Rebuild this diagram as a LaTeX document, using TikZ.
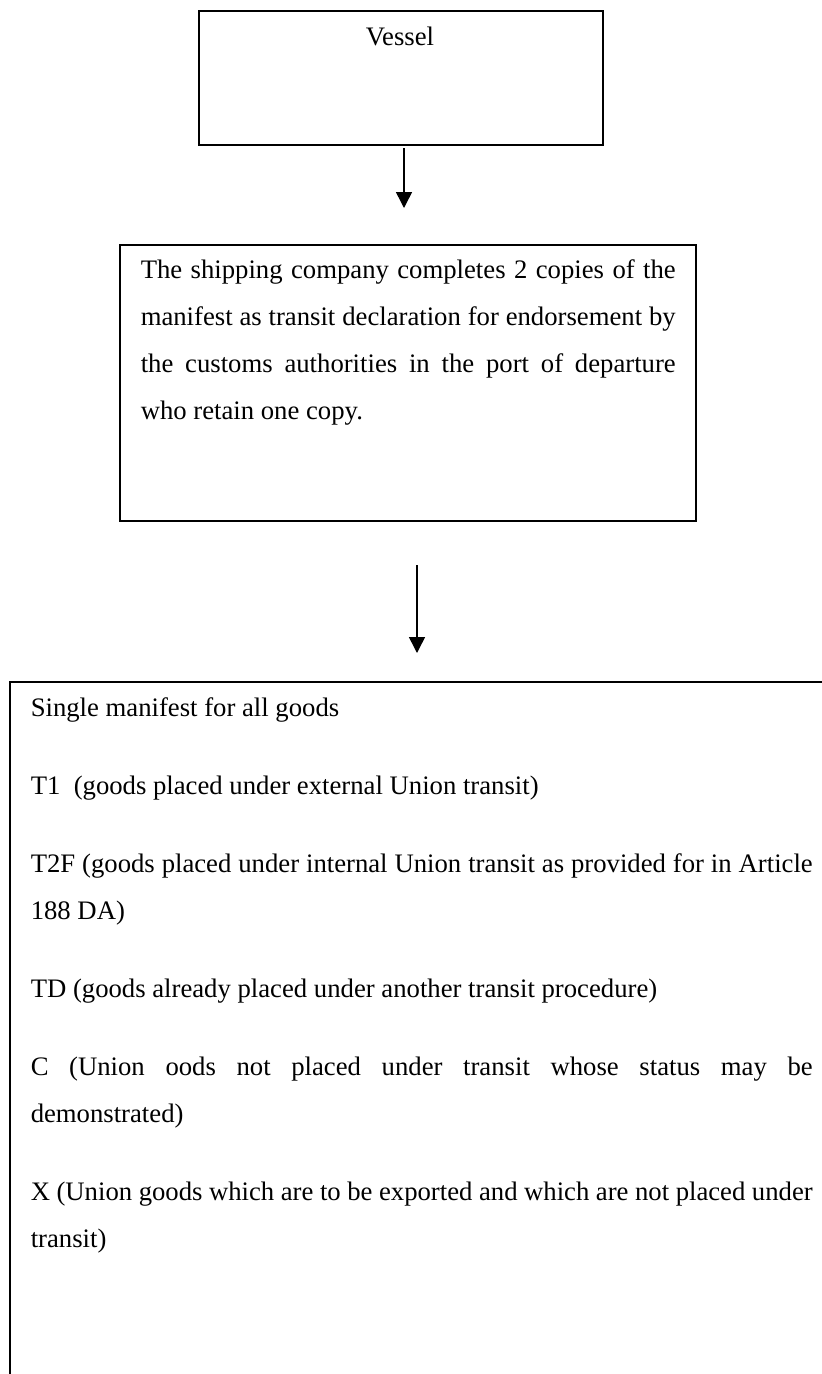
\documentclass[tikz,border=0pt]{standalone}
\usepackage{fontspec}
\setmainfont{Liberation Serif}
\usetikzlibrary{arrows.meta,positioning,calc}

\tikzset{
  frame/.style={draw, line width=2pt, inner sep=0pt, anchor=north west},
  txt/.style={inner sep=0pt, font=\fontsize{26.7}{47}\selectfont, align=justify, anchor=base west},
}

\begin{document}
\begin{tikzpicture}[x=1pt,y=-1pt,>={Triangle[width=16pt,length=16pt]},line width=1.5pt]

\clip (0,0) rectangle (822,1374);

% boxes
\node[frame,minimum width=404pt,minimum height=134.5pt](vessel) at (198,9.5) {};
\node[frame,minimum width=576pt,minimum height=276pt](shipping) at (119,244) {};
\node[frame,minimum width=840pt,minimum height=800pt](manifest) at (9,681) {};

% texts
\node[txt,anchor=base](vesselname) at (400,45) {Vessel};

\node[txt,text width=535pt](shippingtext) at (140,278) {The shipping company completes 2 copies of the\linebreak
manifest as transit declaration for endorsement by\linebreak
the customs authorities in the port of departure\linebreak
who retain one copy.};

\node[txt,text width=782pt](manifesttext) at (30,716) {Single manifest for all goods\\[31pt]
T1\ \ (goods placed under external Union transit)\\[31pt]
T2F (goods placed under internal Union transit as provided for in Article\linebreak
188 DA)\\[31pt]
TD (goods already placed under another transit procedure)\\[31pt]
C (Union oods not placed under transit whose status may be\linebreak
demonstrated)\\[31pt]
X (Union goods which are to be exported and which are not placed under\linebreak
transit)};

% arrows
\coordinate (a1top) at (404,148);
\coordinate (a1tip) at (404,208);
\coordinate (a2top) at (417,565);
\coordinate (a2tip) at (417,653);

\draw[->] (a1top) -- (a1tip);
\draw[->] (a2top) -- (a2tip);

\end{tikzpicture}
\end{document}
